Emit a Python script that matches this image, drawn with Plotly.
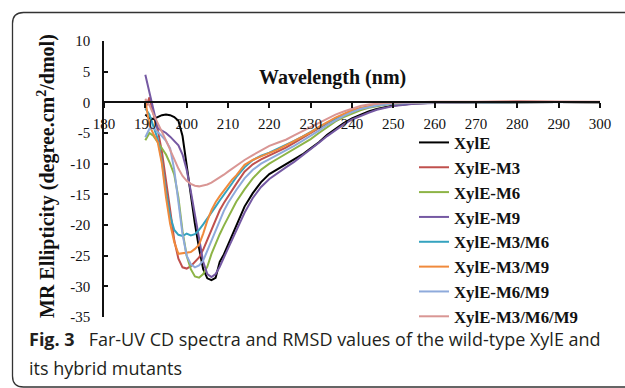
import plotly.graph_objects as go

# ---------------- data ----------------
wavelength = [190, 191, 192, 193, 194, 195, 196, 197, 198, 199, 200, 201, 202, 203, 204, 205,
              206, 207, 208, 209, 210, 211, 212, 214, 216, 218, 220, 222, 224, 226, 228, 230,
              232, 234, 236, 238, 240, 242, 244, 246, 248, 250, 255, 260, 270, 280, 290, 300]

xyle = [-2.0, -2.6, -2.7, -2.4, -2.1, -2.0, -2.1, -2.4, -3.0, -5.5, -10.5, -15.5, -19.8, -23.8, -27.2, -28.7,
        -29.0, -28.6, -26.0, -24.8, -23.2, -21.7, -20.2, -17.0, -14.8, -13.0, -11.7, -10.9, -10.2, -9.4, -8.5, -7.5,
        -6.5, -5.3, -4.3, -3.4, -2.6, -2.0, -1.5, -1.1, -0.75, -0.5, -0.2, -0.05, 0.0, 0.05, 0.05, 0.0]

xyle_m3 = [-1.0, 0.8, -2.0, -4.5, -8.0, -12.5, -17.5, -22.5, -25.5, -26.9, -27.1, -26.7, -26.0, -25.3, -24.0, -22.4,
           -20.8, -19.1, -17.6, -16.4, -15.3, -14.3, -13.3, -11.3, -10.1, -9.3, -8.7, -8.1, -7.4, -6.6, -5.8, -5.0,
           -4.2, -3.4, -2.6, -2.0, -1.4, -1.0, -0.7, -0.5, -0.3, -0.2, -0.1, 0.0, 0.0, 0.05, 0.05, 0.0]

xyle_m6 = [-6.2, -5.0, -5.5, -6.5, -7.3, -8.5, -10.0, -11.8, -15.5, -21.0, -25.0, -27.2, -28.4, -28.6, -28.0, -26.8,
           -24.7, -23.0, -21.5, -20.1, -18.8, -17.4, -16.2, -14.2, -12.4, -11.0, -10.0, -9.2, -8.4, -7.6, -6.8, -6.0,
           -5.0, -4.0, -3.1, -2.4, -1.8, -1.3, -0.9, -0.6, -0.4, -0.25, -0.1, 0.0, 0.0, 0.05, 0.05, 0.0]

xyle_m9 = [4.5, 1.5, -1.5, -4.2, -4.6, -5.0, -5.6, -6.3, -7.0, -8.5, -11.0, -14.5, -18.5, -22.5, -26.0, -28.0,
           -28.5, -28.0, -26.8, -25.3, -23.8, -22.3, -20.9, -18.0, -15.6, -13.8, -12.5, -11.5, -10.6, -9.7, -8.7, -7.7,
           -6.6, -5.5, -4.5, -3.6, -2.8, -2.2, -1.7, -1.2, -0.85, -0.6, -0.25, -0.1, 0.0, 0.05, 0.05, 0.0]

xyle_m3_m6 = [-1.0, -2.0, -4.0, -6.0, -9.5, -14.5, -18.5, -20.8, -21.6, -21.8, -21.4, -21.7, -21.5, -20.8, -19.9, -19.0,
              -18.0, -17.0, -16.0, -15.1, -14.1, -13.2, -12.2, -10.6, -9.4, -8.7, -8.2, -7.6, -7.0, -6.3, -5.6, -4.9,
              -4.1, -3.3, -2.6, -2.0, -1.5, -1.0, -0.7, -0.45, -0.3, -0.2, -0.05, 0.0, 0.0, 0.05, 0.05, 0.0]

xyle_m3_m9 = [0.3, -3.8, -5.2, -6.5, -10.0, -15.5, -19.8, -22.8, -24.7, -24.6, -24.6, -24.4, -23.9, -23.2, -21.4, -19.3,
              -17.6, -16.3, -15.3, -14.3, -13.5, -12.6, -11.9, -10.2, -9.4, -8.8, -8.3, -7.7, -7.0, -6.3, -5.6, -4.9,
              -4.0, -3.2, -2.5, -1.9, -1.3, -0.9, -0.6, -0.4, -0.25, -0.15, -0.05, 0.0, 0.0, 0.1, 0.05, 0.0]

xyle_m6_m9 = [-5.7, -4.3, -4.2, -4.8, -5.5, -6.3, -7.5, -11.0, -16.0, -21.5, -25.0, -26.4, -26.9, -26.6, -25.8, -24.2,
              -22.5, -20.7, -19.1, -17.7, -16.4, -15.3, -14.3, -12.4, -11.0, -10.0, -9.3, -8.6, -7.9, -7.1, -6.3, -5.5,
              -4.6, -3.7, -2.9, -2.2, -1.6, -1.1, -0.8, -0.5, -0.35, -0.2, -0.05, 0.0, 0.0, 0.05, 0.05, 0.0]

xyle_m3_m6_m9 = [0.6, -0.5, -2.0, -3.5, -4.8, -6.2, -7.7, -9.3, -10.8, -12.0, -12.8, -13.3, -13.6, -13.7, -13.6, -13.4,
                 -13.1, -12.7, -12.3, -11.8, -11.3, -10.8, -10.3, -9.4, -8.6, -7.8, -7.1, -6.6, -6.1, -5.4, -4.7, -4.0,
                 -3.3, -2.6, -2.0, -1.5, -1.0, -0.6, -0.35, -0.2, -0.1, -0.05, 0.05, 0.1, 0.1, 0.2, 0.15, 0.1]

series_names = ["XylE", "XylE-M3", "XylE-M6", "XylE-M9", "XylE-M3/M6", "XylE-M3/M9", "XylE-M6/M9", "XylE-M3/M6/M9"]
series_values = [xyle, xyle_m3, xyle_m6, xyle_m9, xyle_m3_m6, xyle_m3_m9, xyle_m6_m9, xyle_m3_m6_m9]
series_colors = ["#000000", "#C0504D", "#8DB446", "#7559A3", "#35A3BF", "#F08A3C", "#8EAADB", "#D99694"]

x_ticks = [180, 190, 200, 210, 220, 230, 240, 250, 260, 270, 280, 290, 300]
x_tick_labels = ["180", "190", "200", "210", "220", "230", "240", "250", "260", "270", "280", "290", "300"]
y_ticks = [10, 5, 0, -5, -10, -15, -20, -25, -30, -35]
y_tick_labels = ["10", "5", "0", "-5", "-10", "-15", "-20", "-25", "-30", "-35"]

x_title = "<b>Wavelength (nm)</b>"
y_title = "<b>MR Ellipticity (degree.cm<sup>2</sup>/dmol)</b>"
caption_1 = "<b>Fig. 3</b>\u00a0\u00a0\u00a0Far-UV CD spectra and RMSD values of the wild-type XylE and"
caption_2 = "its hybrid mutants"

# ---------------- layout geometry ----------------
W, H = 625, 388
PX0, PX1, PY0, PY1 = 104, 600, 41, 317   # plot area in pixels


def fx(px):
    return (px - PX0) / (PX1 - PX0)


def fy(py):
    return (PY1 - py) / (PY1 - PY0)


SERIF = "Liberation Serif, Times New Roman, serif"
SANS = "Open Sans, Noto Sans, sans-serif"

fig = go.Figure()
for name, vals, col in zip(series_names, series_values, series_colors):
    fig.add_trace(go.Scatter(x=wavelength, y=vals, mode="lines", name=name,
                             line=dict(color=col, width=2)))

y_min, y_max = -35, 10
fig.update_layout(
    width=W, height=H,
    margin=dict(l=PX0, r=W - PX1, t=PY0, b=H - PY1, pad=0),
    paper_bgcolor="white", plot_bgcolor="white",
    showlegend=True,
    legend=dict(x=fx(414), y=fy(125), xanchor="left", yanchor="top",
                bgcolor="rgba(0,0,0,0)", borderwidth=0,
                font=dict(family=SERIF, size=16.8, color="#111", weight="bold"),
                itemwidth=30, tracegroupgap=0),
    xaxis=dict(range=[180, 300], tickvals=x_ticks, ticktext=x_tick_labels,
               anchor="free", position=(0 - y_min) / (y_max - y_min),
               showline=True, linecolor="#111", linewidth=1.5,
               ticks="outside", ticklen=5, tickwidth=1.5, tickcolor="#111",
               ticklabelstandoff=3,
               showgrid=False, zeroline=False,
               tickfont=dict(family=SERIF, size=15, color="#111")),
    yaxis=dict(range=[y_min, y_max], tickvals=y_ticks, ticktext=y_tick_labels,
               showline=True, linecolor="#111", linewidth=1.5,
               ticks="inside", ticklen=4, tickwidth=1.5, tickcolor="#111",
               ticklabelstandoff=9,
               showgrid=False, zeroline=False,
               tickfont=dict(family=SERIF, size=15, color="#111")),
)

# axis titles
fig.add_annotation(x=fx(332), y=fy(77), xref="paper", yref="paper", text=x_title,
                   showarrow=False, xanchor="center", yanchor="middle",
                   font=dict(family=SERIF, size=20, color="#111"))
fig.add_annotation(x=fx(46), y=fy(176), xref="paper", yref="paper", text=y_title,
                   showarrow=False, textangle=-90, xanchor="center", yanchor="middle",
                   font=dict(family=SERIF, size=20, color="#111"))

# caption
fig.add_annotation(x=fx(27), y=fy(339), xref="paper", yref="paper", text=caption_1,
                   showarrow=False, xanchor="left", yanchor="middle",
                   font=dict(family=SANS, size=18, color="#231F20"))
fig.add_annotation(x=fx(27), y=fy(368), xref="paper", yref="paper", text=caption_2,
                   showarrow=False, xanchor="left", yanchor="middle",
                   font=dict(family=SANS, size=18, color="#231F20"))

# rounded frame (open to the right)
r = 11
path = (f"M {fx(630)},{fy(12.5)} L {fx(12.5 + r)},{fy(12.5)} "
        f"Q {fx(12.5)},{fy(12.5)} {fx(12.5)},{fy(12.5 + r)} "
        f"L {fx(12.5)},{fy(387 - r)} Q {fx(12.5)},{fy(387)} {fx(12.5 + r)},{fy(387)} "
        f"L {fx(630)},{fy(387)}")
fig.add_shape(type="path", path=path, xref="paper", yref="paper",
              line=dict(color="#333", width=1.3), layer="above")

fig.write_html("out.html")
